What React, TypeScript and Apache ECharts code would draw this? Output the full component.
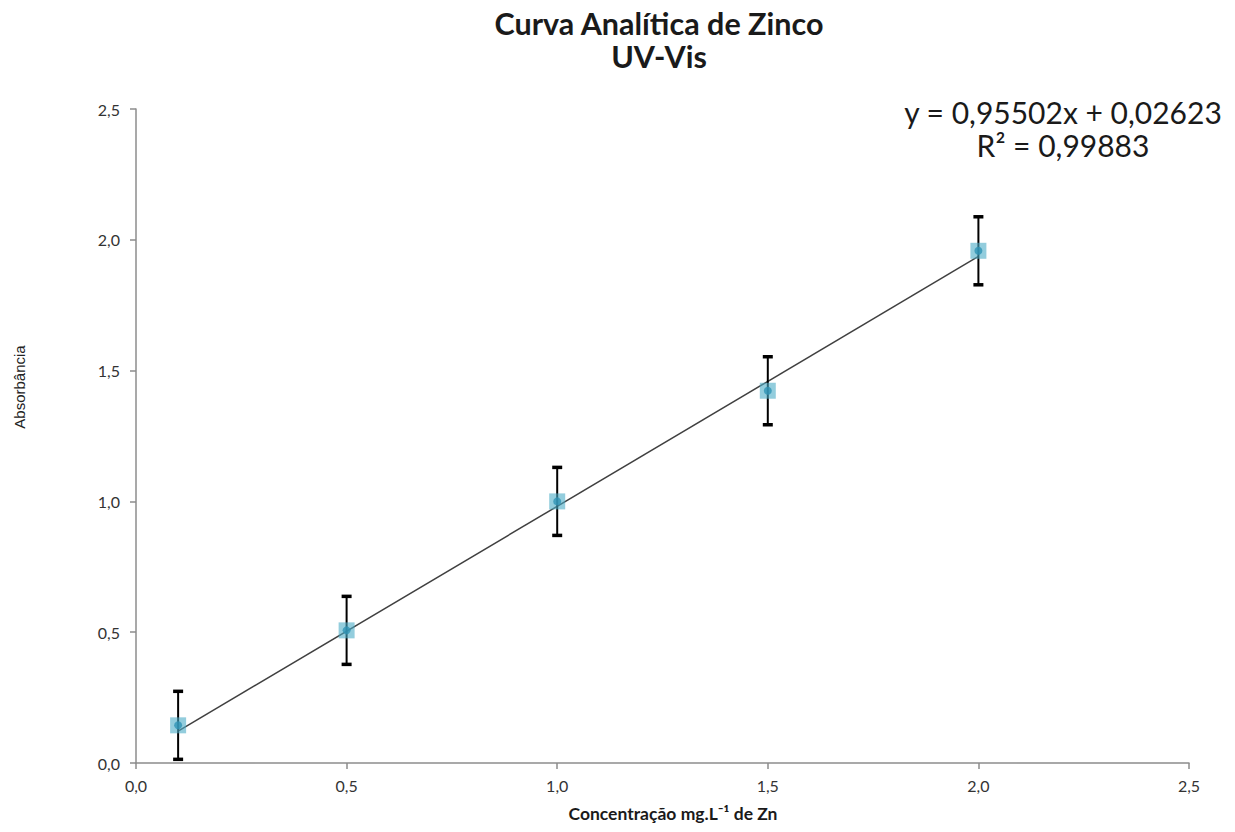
import React, { useEffect, useRef } from "react";
import * as echarts from "echarts";

const concentrations = [0.1, 0.5, 1.0, 1.5, 2.0];
const absorbances = [0.144, 0.507, 1.0, 1.423, 1.958];
const errors = [0.13, 0.13, 0.13, 0.13, 0.13];
const slope = 0.95502;
const intercept = 0.02623;
const equationText = "y = 0,95502x + 0,02623";
const r2Text = "R² = 0,99883";
const titleLines = ["Curva Analítica de Zinco", "UV-Vis"];
const xAxisName = "Concentração mg.L⁻¹ de Zn";
const yAxisName = "Absorbância";

const fmt = (v: number) => v.toFixed(1).replace(".", ",");

export default function App() {
  const ref = useRef<HTMLDivElement>(null);
  useEffect(() => {
    if (!ref.current) return;
    const chart = echarts.init(ref.current, undefined, { renderer: "svg" });
    const xMin = concentrations[0];
    const xMax = concentrations[concentrations.length - 1];
    const trend = [
      [xMin, slope * xMin + intercept],
      [xMax, slope * xMax + intercept],
    ];
    const errData = concentrations.map((x, i) => [x, absorbances[i] - errors[i], absorbances[i] + errors[i]]);
    chart.setOption({
      animation: false,
      backgroundColor: "#ffffff",
      title: {
        text: titleLines.join("\n"),
        left: 654,
        textAlign: "center",
        top: 1,
        textStyle: { fontFamily: "Lato", fontWeight: "bold", fontSize: 30.5, lineHeight: 33, color: "#1a1a1a" },
      },
      grid: { left: 136, right: 46, top: 109, bottom: 69, containLabel: false },
      xAxis: {
        type: "value",
        min: 0,
        max: 2.5,
        interval: 0.5,
        axisLine: { lineStyle: { color: "#8c8c8c", width: 1.5 } },
        axisTick: { show: true, length: 6, lineStyle: { color: "#8c8c8c", width: 1.5 } },
        axisLabel: { formatter: fmt, fontFamily: "Lato", fontSize: 16, color: "#333", margin: 14 },
        splitLine: { show: false },
      },
      yAxis: {
        type: "value",
        min: 0,
        max: 2.5,
        interval: 0.5,
        axisLine: { show: true, lineStyle: { color: "#8c8c8c", width: 1.5 } },
        axisTick: { show: true, length: 6, lineStyle: { color: "#8c8c8c", width: 1.5 } },
        axisLabel: { formatter: fmt, fontFamily: "Lato", fontSize: 16, color: "#333", margin: 16 },
        splitLine: { show: false },
      },
      series: [
        {
          type: "line",
          data: trend,
          symbol: "none",
          lineStyle: { color: "#404040", width: 1.5 },
          z: 3,
        },
        {
          type: "custom",
          data: errData,
          z: 4,
          renderItem: (params: any, api: any) => {
            const x = api.value(0);
            const lo = api.coord([x, api.value(1)]);
            const hi = api.coord([x, api.value(2)]);
            const cap = 5;
            const style = { stroke: "#000", lineWidth: 2 };
            return {
              type: "group",
              children: [
                { type: "line", shape: { x1: lo[0], y1: lo[1], x2: hi[0], y2: hi[1] }, style },
                { type: "line", shape: { x1: lo[0] - cap, y1: lo[1], x2: lo[0] + cap, y2: lo[1] }, style: { stroke: "#000", lineWidth: 3.5 } },
                { type: "line", shape: { x1: hi[0] - cap, y1: hi[1], x2: hi[0] + cap, y2: hi[1] }, style: { stroke: "#000", lineWidth: 3.5 } },
              ],
            };
          },
        },
        {
          type: "scatter",
          data: concentrations.map((x, i) => [x, absorbances[i]]),
          symbol: "rect",
          symbolSize: 16,
          itemStyle: { color: "rgba(75,172,198,0.75)" },
          z: 5,
        },
        {
          type: "scatter",
          data: concentrations.map((x, i) => [x, absorbances[i]]),
          symbol: "circle",
          symbolSize: 8,
          itemStyle: { color: "#2f93b5" },
          z: 6,
        },
      ],
      graphic: [
        {
          type: "text",
          x: 1063,
          y: 112,
          style: {
            text: equationText,
            textAlign: "center",
            textVerticalAlign: "middle",
            fontFamily: "Lato",
            fontSize: 30,
            fill: "#1a1a1a",
          },
        },
        {
          type: "text",
          x: 1063,
          y: 145,
          style: {
            text: r2Text,
            textAlign: "center",
            textVerticalAlign: "middle",
            fontFamily: "Lato",
            fontSize: 30,
            fill: "#1a1a1a",
          },
        },
        {
          type: "text",
          x: 673,
          y: 813,
          style: {
            text: xAxisName,
            textAlign: "center",
            textVerticalAlign: "middle",
            fontFamily: "Lato",
            fontWeight: "bold",
            fontSize: 17.5,
            fill: "#1a1a1a",
          },
        },
        {
          type: "text",
          x: 19,
          y: 387,
          rotation: Math.PI / 2,
          style: {
            text: yAxisName,
            textAlign: "center",
            textVerticalAlign: "middle",
            fontFamily: "Liberation Sans",
            fontSize: 15,
            fill: "#222",
          },
        },
      ],
    });
    return () => chart.dispose();
  }, []);
  return <div ref={ref} style={{ position: "fixed", left: 0, top: 0, width: 1235, height: 832 }} />;
}
